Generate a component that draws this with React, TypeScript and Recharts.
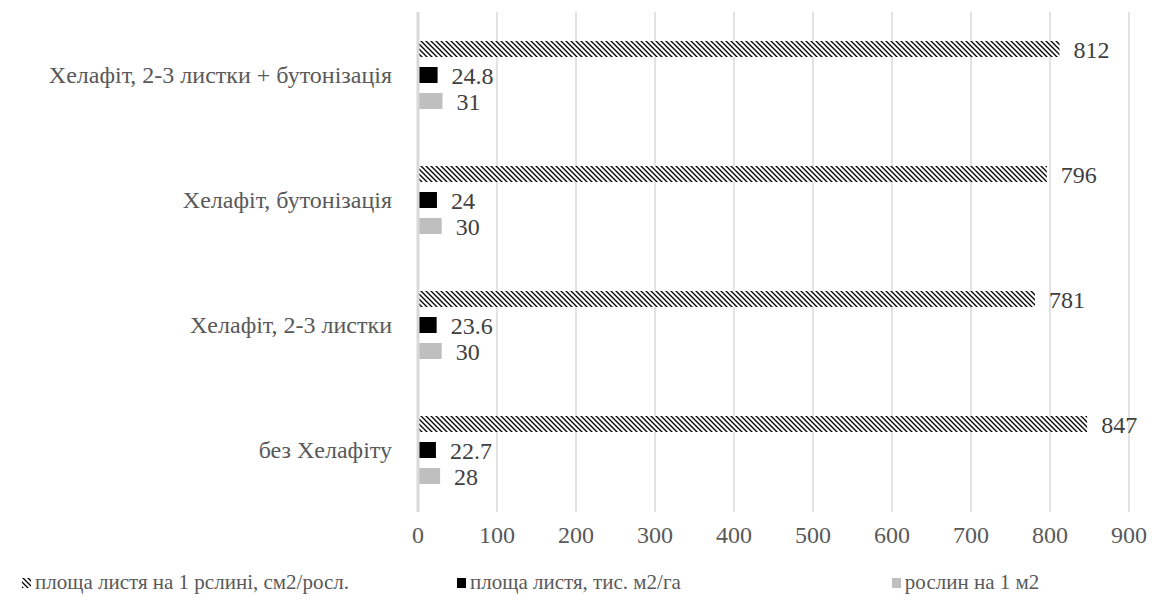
import React from "react";
import { BarChart, Bar, XAxis, YAxis, CartesianGrid, LabelList, Legend } from "recharts";

const categories = [
  "без Хелафіту",
  "Хелафіт, 2-3 листки",
  "Хелафіт, бутонізація",
  "Хелафіт, 2-3 листки + бутонізація",
];
const leafPerPlant = [847, 781, 796, 812];
const leafArea = [22.7, 23.6, 24, 24.8];
const plants = [28, 30, 30, 31];
const xTicks = [0, 100, 200, 300, 400, 500, 600, 700, 800, 900];

const seriesNames = [
  "площа листя на 1 рслині, см2/росл.",
  "площа листя, тис. м2/га",
  "рослин на 1 м2",
];

const data = categories.map((c, i) => ({
  name: c,
  a: leafPerPlant[i],
  b: leafArea[i],
  c: plants[i],
}));

const FONT = '"Liberation Serif"';

const legendGaps = [0, 108, 211];

const css = `
.serif-chart, .serif-chart * { font-family: "Liberation Serif" !important; }
`;

const renderLegend = () => (
  <div
    style={{
      display: "flex",
      alignItems: "center",
      fontFamily: FONT,
      fontSize: 21,
      color: "#595959",
      paddingLeft: 22,
      whiteSpace: "nowrap",
    }}
  >
    {seriesNames.map((n, i) => (
      <div key={n} style={{ display: "flex", alignItems: "center", marginLeft: legendGaps[i] }}>
        <svg width={10} height={12} style={{ marginRight: 3 }}>
          {i === 0 ? (
            <rect x={0} y={1} width={9} height={10} fill="url(#hatch)" />
          ) : (
            <rect x={0} y={1} width={9} height={10} fill={i === 1 ? "#000000" : "#bfbfbf"} />
          )}
        </svg>
        <span>{n}</span>
      </div>
    ))}
  </div>
);

export default function App() {
  return (
    <div className="serif-chart" style={{ position: "absolute", left: 0, top: 0, width: 1152, height: 605, background: "#fff", fontFamily: FONT }}>
      <style>{css}</style>
      <BarChart
        width={1152}
        height={605}
        data={data}
        layout="vertical"
        margin={{ top: 12, right: 23, left: 0, bottom: 29 }}
        barSize={16}
        barGap={10}
      >
        <defs>
          <pattern id="hatch" patternUnits="userSpaceOnUse" width="5" height="5">
            <rect width="5" height="5" fill="#ffffff" />
            <path d="M-1,-1 L6,6 M-1,4 L1,6 M4,-1 L6,1" stroke="#000000" strokeWidth="1.3" />
          </pattern>
        </defs>
        <CartesianGrid horizontal={false} stroke="#d9d9d9" strokeWidth={1.5} />
        <XAxis
          type="number"
          domain={[0, 900]}
          ticks={xTicks}
          axisLine={false}
          tickLine={false}
          tickSize={0}
          tickMargin={14}
          height={40}
          tick={{ fontFamily: FONT, fontSize: 24, fill: "#595959" }}
        />
        <YAxis
          type="category"
          dataKey="name"
          reversed
          width={418}
          axisLine={{ stroke: "#d9d9d9", strokeWidth: 3 }}
          tickLine={false}
          tickSize={0}
          tickMargin={26}
          tick={{ fontFamily: FONT, fontSize: 24, fill: "#595959" }}
        />
        <Legend
          verticalAlign="bottom"
          height={24}
          content={renderLegend}
          wrapperStyle={{ left: 0, width: 1152, bottom: 11 }}
        />
        <Bar dataKey="a" name={seriesNames[0]} fill="url(#hatch)" isAnimationActive={false}>
          <LabelList dataKey="a" position="right" offset={14} style={{ fontFamily: FONT, fontSize: 24, fill: "#404040" }} />
        </Bar>
        <Bar dataKey="b" name={seriesNames[1]} fill="#000000" isAnimationActive={false}>
          <LabelList dataKey="b" position="right" offset={14} style={{ fontFamily: FONT, fontSize: 24, fill: "#404040" }} />
        </Bar>
        <Bar dataKey="c" name={seriesNames[2]} fill="#bfbfbf" isAnimationActive={false}>
          <LabelList dataKey="c" position="right" offset={14} style={{ fontFamily: FONT, fontSize: 24, fill: "#404040" }} />
        </Bar>
      </BarChart>
    </div>
  );
}
